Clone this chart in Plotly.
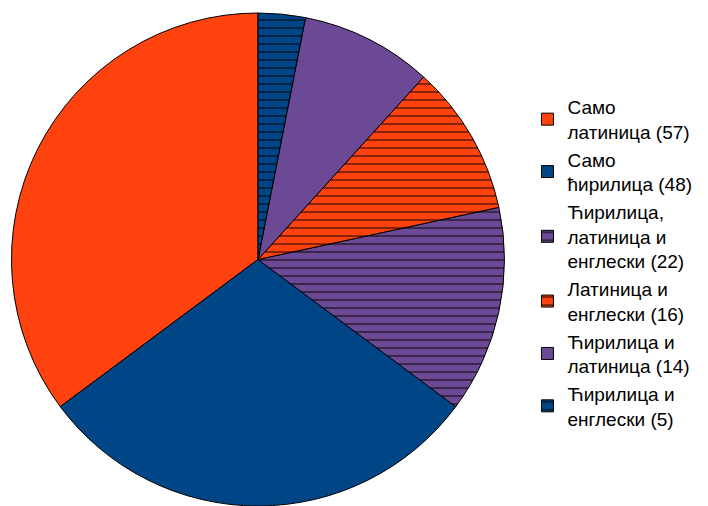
import plotly.graph_objects as go

labels = [
    "Само<br>латиница (57)",
    "Само<br>ћирилица (48)",
    "Ћирилица,<br>латиница и<br>енглески (22)",
    "Латиница и<br>енглески (16)",
    "Ћирилица и<br>латиница (14)",
    "Ћирилица и<br>енглески (5)",
]
values = [57, 48, 22, 16, 14, 5]
colors = ["#FF420E", "#004586", "#6B4994", "#FF420E", "#6B4994", "#004586"]
patterns = ["", "", "-", "-", "", "-"]

# first slice should run counterclockwise from 12 o'clock
first_share = values[0] / sum(values) * 360

fig = go.Figure(go.Pie(
    labels=labels,
    values=values,
    sort=False,
    direction="counterclockwise",
    rotation=-first_share,
    textinfo="none",
    marker=dict(
        colors=colors,
        line=dict(color="black", width=1),
        pattern=dict(shape=patterns, fgcolor="black", bgcolor=colors,
                     size=8, solidity=0.12, fillmode="replace"),
    ),
    domain=dict(x=[0, 516 / 708], y=[0, 1]),
))

fig.update_layout(
    width=708, height=506,
    margin=dict(l=0, r=0, t=13, b=0),
    paper_bgcolor="white",
    font=dict(family="Liberation Sans, Arial, sans-serif", size=19, color="black"),
    legend=dict(x=0.745, xanchor="left", y=0.493, yanchor="middle",
                font=dict(size=19), traceorder="normal"),
    showlegend=True,
)

fig.write_html("out.html")
